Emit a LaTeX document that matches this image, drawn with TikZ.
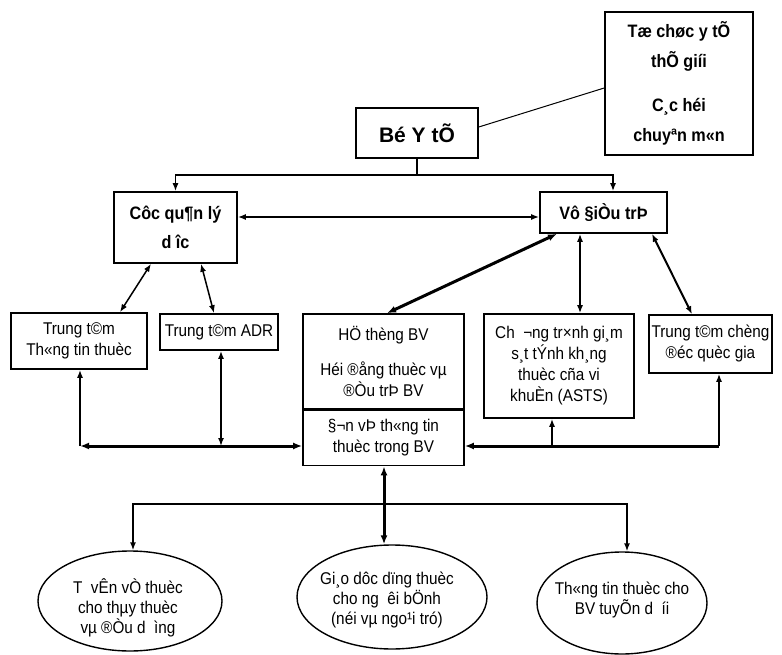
\documentclass[tikz,border=0pt]{standalone}
\usepackage{fontspec}
\setmainfont{Liberation Sans}
\newfontfamily\narrowfont[FakeStretch=0.9]{Liberation Sans}
\usetikzlibrary{arrows.meta,shapes.geometric}

\tikzset{
  box/.style={draw, line width=1.6pt, inner sep=0pt, align=center,
    font=\narrowfont\fontsize{17}{21}\selectfont},
  headbox/.style={box, font=\narrowfont\bfseries\fontsize{18}{29}\selectfont},
  oval/.style={ellipse, draw, line width=1.4pt, inner sep=0pt},
  ovaltext/.style={align=center, inner sep=0pt, font=\narrowfont\fontsize{17}{20}\selectfont},
  link/.style={line width=1.5pt, >={Latex[length=8pt,width=6pt]}},
  thicklink/.style={line width=3pt, >={Latex[length=9pt,width=7pt]}},
}

\begin{document}
\begin{tikzpicture}[x=1pt,y=-1pt]
\useasboundingbox (0,0) rectangle (782,655);

\node[headbox, font=\narrowfont\bfseries\fontsize{18}{30}\selectfont, minimum width=148pt, minimum height=143pt] (who) at (679,83.5) {Tæ chøc y tÕ\\thÕ giíi\\[14pt]C¸c héi\\chuyªn m«n};
\node[headbox, font=\bfseries\fontsize{21}{24}\selectfont, minimum width=122pt, minimum height=50pt] (bo) at (417,133) {Bé Y tÕ};
\node[headbox, minimum width=123pt, minimum height=71pt] (cuc) at (175.5,227.5) {Côc qu¶n lý\\d îc};
\node[headbox, minimum width=127pt, minimum height=41pt] (vu) at (603.5,212.5) {Vô §iÒu trÞ};

\node[box, minimum width=136pt, minimum height=56pt] (ttt) at (79,341) {Trung t©m\\Th«ng tin thuèc};
\node[box, minimum width=118pt, minimum height=36pt] (adr) at (219,332) {Trung t©m ADR};
\node[box, minimum width=161pt, minimum height=95pt] (hoidong) at (383.5,361.5) {HÖ thèng BV\\[14pt]Héi ®ång thuèc vµ\\®Òu trÞ BV};
\node[box, minimum width=161pt, minimum height=55pt, anchor=north] (donvi) at (hoidong.south) {§¬n vÞ th«ng tin\\thuèc trong BV};
\node[box, minimum width=150pt, minimum height=104pt] (asts) at (559,366) {Ch\ \ ¬ng tr×nh gi¸m\\s¸t tÝnh kh¸ng\\thuèc cña vi\\khuÈn (ASTS)};
\node[box, minimum width=123pt, minimum height=58pt] (chongdoc) at (710.5,344) {Trung t©m chèng\\®éc quèc gia};

\node[oval, minimum width=184pt, minimum height=100pt] (tuvan) at (130,601) {};
\node[ovaltext] at (128,608) {T\ \ vÊn vÒ thuèc\\cho thµy thuèc\\vµ ®Òu d\ \ ìng};
\node[oval, minimum width=190pt, minimum height=104pt] (giaoduc) at (392,597) {};
\node[ovaltext] at (387,600) {Gi¸o dôc dïng thuèc\\cho ng\ \ êi bÖnh\\(néi vµ ngo¹i tró)};
\node[oval, minimum width=170pt, minimum height=102pt] (tuyen) at (622,603) {};
\node[ovaltext] at (622,600) {Th«ng tin thuèc cho\\BV tuyÕn d\ \ íi};

\coordinate (split) at (417,175);
\draw[link] (bo) -- (split);
\draw[link,->] (split) -| (cuc.north);
\draw[link,->] (split) -| (vu.north -| 613,0);
\draw[line width=1pt] ([yshift=6pt]bo.east) -- ([yshift=-4.5pt]who.west);
\draw[link,<->] (cuc.east |- 0,217) -- (vu.west |- 0,217);

\draw[link,<->] (cuc.south -| 151,0) -- (ttt.north -| 120,0);
\draw[link,<->] (cuc.south -| 201,0) -- (adr.north -| 214,0);
\draw[thicklink,<->] (vu.south -| 557,0) -- (hoidong.north -| 387,0);
\draw[link,<->] (vu.south -| 580,0) -- (asts.north -| 580,0);
\draw[link,line width=2pt,<->] (vu.south -| 652,0) -- (chongdoc.north -| 692,0);

\coordinate (busl) at (80,446);
\coordinate (busr) at (719,446);
\coordinate (busa) at (552,446);
\draw[thicklink,<->] (busl) -- (donvi.west |- busl);
\draw[link,->] (busl) -- (ttt.south -| busl);
\draw[link,<->] (adr.south -| 221,0) -- (busl -| 221,0);
\draw[thicklink,->] (busr) -- (donvi.east |- busr);
\draw[link,->] (busr) -- (chongdoc.south -| busr);
\draw[link,->] (busa) -- (asts.south -| busa);

\coordinate (fork) at (384,504);
\draw[thicklink,<->] (donvi.south -| fork) -- (giaoduc.north -| fork);
\draw[link,->] (fork) -| (tuvan.north -| 133,0);
\draw[link,->] (fork) -| (tuyen.north -| 627,0);
\end{tikzpicture}
\end{document}
